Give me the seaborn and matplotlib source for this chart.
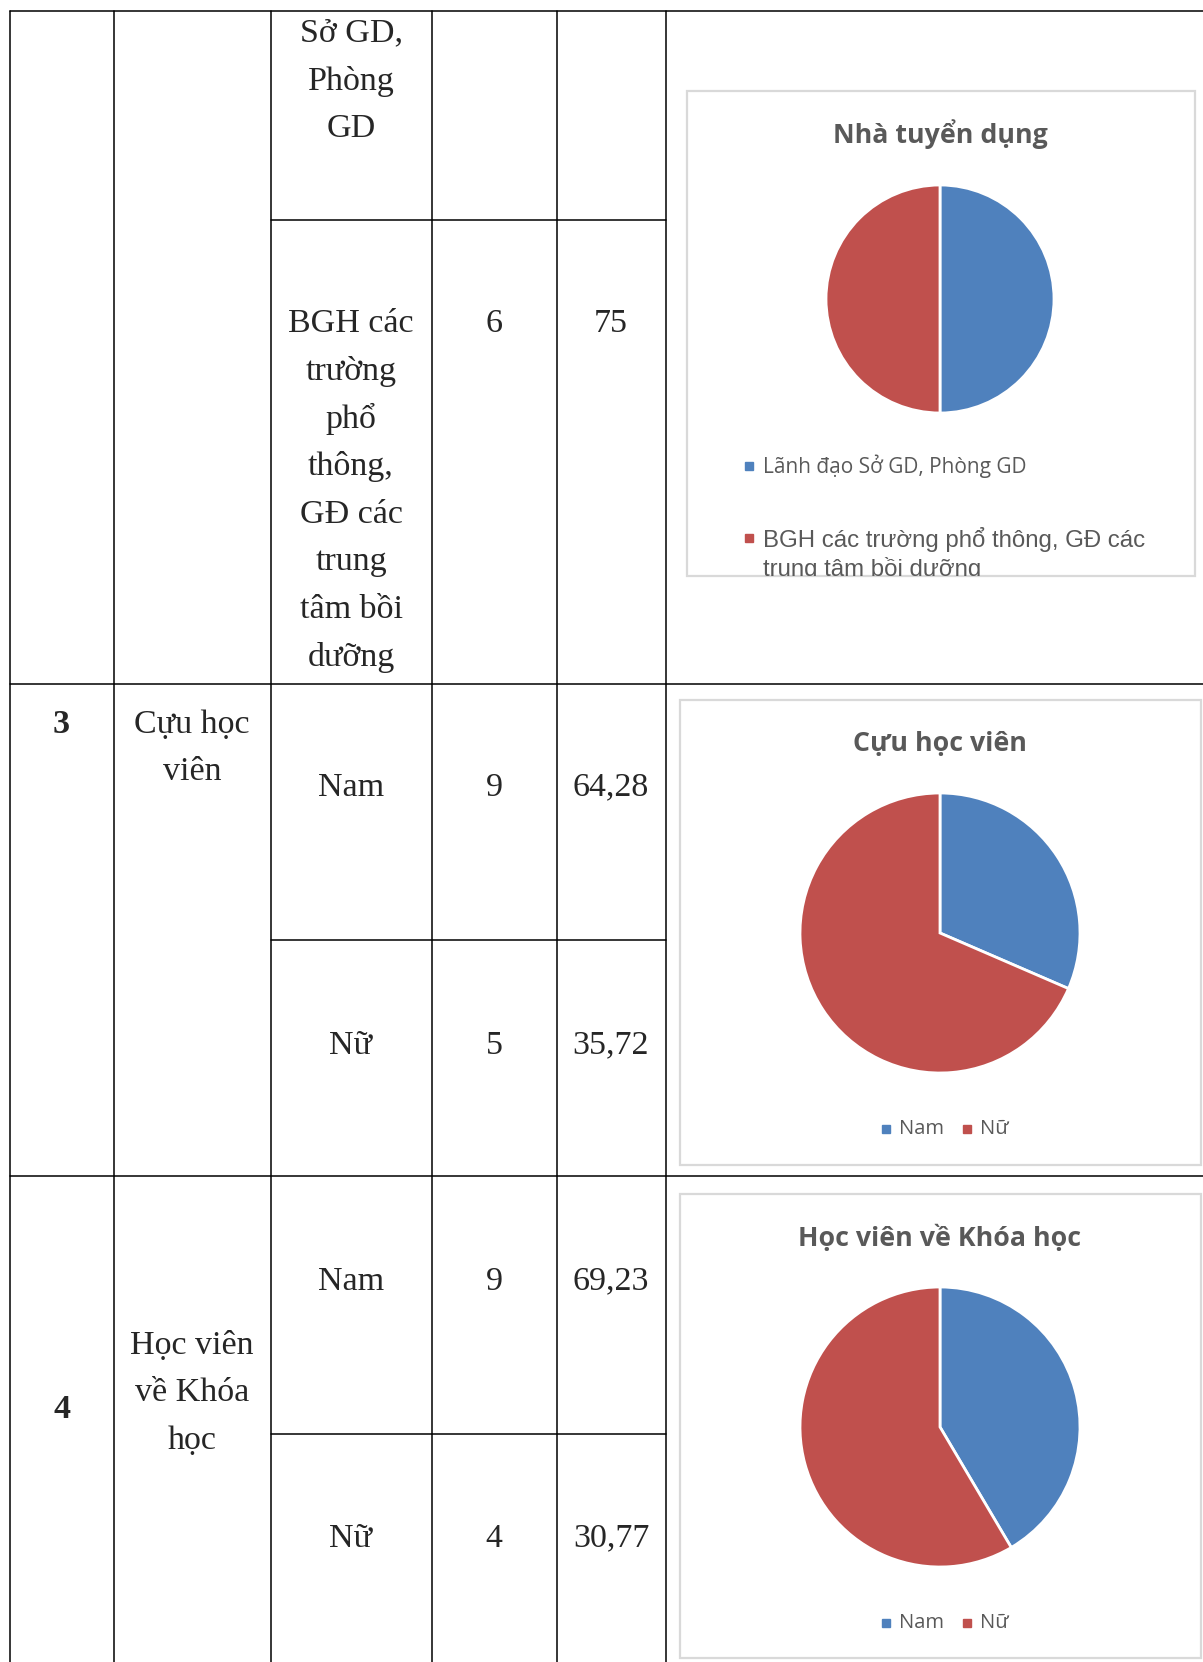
import matplotlib
matplotlib.use("Agg")
import matplotlib.pyplot as plt
from matplotlib.patches import Rectangle
import seaborn as sns

sns.set_theme(style="white")
plt.rcParams['font.family'] = ['Liberation Serif', 'DejaVu Serif']

# Table data
groups = ["3", "4"]
group_names = [["Cựu học", "viên"], ["Học viên", "về Khóa", "học"]]
top_subgroups = [["Sở GD,", "Phòng", "GD"],
                 ["BGH các", "trường", "phổ", "thông,", "GĐ các", "trung", "tâm bồi", "dưỡng"]]
top_counts = ["", "6"]
top_pcts = ["", "75"]
sub_labels = ["Nam", "Nữ", "Nam", "Nữ"]
sub_counts = ["9", "5", "9", "4"]
sub_pcts = ["64,28", "35,72", "69,23", "30,77"]

# Pie data
pie_titles = ["Nhà tuyển dụng", "Cựu học viên", "Học viên về Khóa học"]
pie1_labels = ["Lãnh đạo Sở GD, Phòng GD", "BGH các trường phổ thông, GĐ các\ntrung tâm bồi dưỡng"]
pie1_values = [50, 50]
pie2_labels = ["Nam", "Nữ"]
pie2_values = [31.5, 68.5]
pie3_labels = ["Nam", "Nữ"]
pie3_values = [41.5, 58.5]

colors = ["#4F81BD", "#C0504D"]
title_col = "#595959"

W, H = 1203, 1662
fig = plt.figure(figsize=(W / 100, H / 100), dpi=100)
bg = fig.add_axes([0, 0, 1, 1])
bg.set_xlim(0, W)
bg.set_ylim(H, 0)
bg.axis("off")

# grid lines
xs = [9.5, 113.5, 270.5, 431.5, 556.5, 665.5]
for x in xs:
    bg.plot([x, x], [10.5, H], color="black", lw=1.1)
for y in [10.5, 683.5, 1175.5]:
    bg.plot([9.5, W], [y, y], color="black", lw=1.1)
for y in [219.5, 940, 1434]:
    bg.plot([270.5, 665.5], [y, y], color="black", lw=1.1)

fs = 24.5
lh = 47.7
dy = 3.5
cx = [(xs[i] + xs[i + 1]) / 2 for i in range(5)]


def lines(x, y0, items, **kw):
    for i, t in enumerate(items):
        bg.text(x, y0 + dy + i * lh, t, ha="center", va="center", fontsize=fs, **kw)


# top rows (continuation of group 2)
lines(cx[2], 30, top_subgroups[0])
lines(cx[2], 320, top_subgroups[1])
bg.text(cx[3], 320 + dy, top_counts[1], ha="center", va="center", fontsize=fs)
bg.text(cx[4], 320 + dy, top_pcts[1], ha="center", va="center", fontsize=fs)

# groups 3, 4
bg.text(cx[0], 721 + dy, groups[0], ha="center", va="center", fontsize=fs, fontweight="bold")
bg.text(cx[0], 1406 + dy, groups[1], ha="center", va="center", fontsize=fs, fontweight="bold")
lines(cx[1], 721, group_names[0])
lines(cx[1], 1342, group_names[1])
row_y = [784, 1042, 1278, 1535]
for y, a, b, c in zip(row_y, sub_labels, sub_counts, sub_pcts):
    bg.text(cx[2], y + dy, a, ha="center", va="center", fontsize=fs)
    bg.text(cx[3], y + dy, b, ha="center", va="center", fontsize=fs)
    bg.text(cx[4], y + dy, c, ha="center", va="center", fontsize=fs)

# chart boxes
boxes = [(687, 91, 1195, 576), (680, 700, 1201, 1165), (680, 1194, 1201, 1658)]
box_patches = []
for x0, y0, x1, y1 in boxes:
    r = Rectangle((x0, y0), x1 - x0, y1 - y0, facecolor="white", edgecolor="#D9D9D9", lw=1.6)
    bg.add_patch(r)
    box_patches.append(r)

sans = ["Open Sans", "DejaVu Sans"]
title_y = [134, 744, 1238]
for t, y in zip(pie_titles, title_y):
    bg.text(940, y, t, ha="center", va="center", fontsize=19.3, fontweight="bold",
            color=title_col, family=sans)

# pies
pie_specs = [((940, 299, 114), pie1_values), ((940, 933, 140), pie2_values),
             ((940, 1427, 140), pie3_values)]
for (pcx, pcy, r), vals in pie_specs:
    ax = fig.add_axes([(pcx - r) / W, (H - pcy - r) / H, 2 * r / W, 2 * r / H])
    ax.pie(vals, colors=colors, startangle=90, counterclock=False,
           wedgeprops=dict(edgecolor="white", linewidth=2))
    ax.set_xlim(-1.0, 1.0)
    ax.set_ylim(-1.0, 1.0)
    ax.set_aspect("equal")
    ax.axis("off")

# legend of chart 1 (second entry is cut off by the chart frame)
bg.add_patch(Rectangle((745, 462), 8, 8, color=colors[0]))
bg.text(763, 466, pie1_labels[0], ha="left", va="center", fontsize=15,
        color=title_col, family=sans)
bg.add_patch(Rectangle((745, 534), 8, 8, color=colors[1]))
t2 = bg.text(763, 527, pie1_labels[1], ha="left", va="top", fontsize=17.3,
             color=title_col, family=["Liberation Sans", "DejaVu Sans"], linespacing=1.25)
t2.set_clip_on(True)
t2.set_clip_path(box_patches[0])

# legends of charts 2 and 3
for y, labs in zip([1129, 1623], [pie2_labels, pie3_labels]):
    bg.add_patch(Rectangle((882, y - 4), 8, 8, color=colors[0]))
    bg.text(899, y, labs[0], ha="left", va="center", fontsize=14.5, color=title_col, family=sans)
    bg.add_patch(Rectangle((963, y - 4), 8, 8, color=colors[1]))
    bg.text(980, y, labs[1], ha="left", va="center", fontsize=14.5, color=title_col, family=sans)

fig.savefig("out.png", dpi=100)
